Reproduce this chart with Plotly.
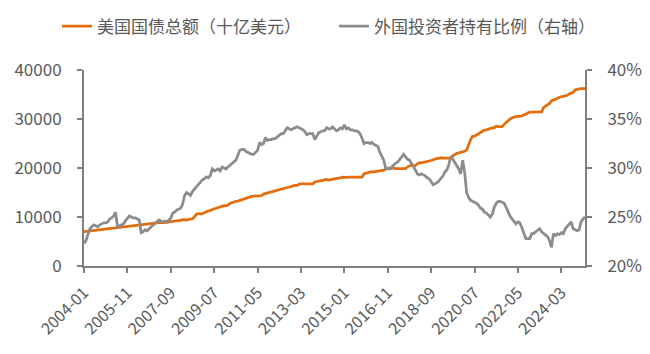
import plotly.graph_objects as go

# Monthly categories 2004-01 .. 2025-03
months = [f"{y}-{m:02d}" for y in range(2004, 2026) for m in range(1, 13)][:255]

tick_labels = ["2004-01", "2005-11", "2007-09", "2009-07", "2011-05", "2013-03",
               "2015-01", "2016-11", "2018-09", "2020-07", "2022-05", "2024-03"]

# 美国国债总额（十亿美元）
debt = [
    7010, 7060, 7130, 7150, 7180, 7270, 7290, 7340, 7380, 7430, 7520, 7600,
    7630, 7700, 7780, 7760, 7780, 7840, 7870, 7930, 7930, 8000, 8090, 8170,
    8200, 8270, 8370, 8350, 8360, 8420, 8440, 8510, 8510, 8560, 8610, 8680,
    8710, 8780, 8850, 8850, 8840, 8870, 8920, 9000, 9010, 9080, 9140, 9230,
    9240, 9300, 9440, 9400, 9390, 9490, 9590, 9650, 10020, 10570, 10670, 10700,
    10630, 10880, 11130, 11240, 11320, 11550, 11670, 11780, 11910, 11930, 12030, 12310,
    12280, 12440, 12770, 12950, 13050, 13200, 13240, 13400, 13560, 13670, 13860, 14030,
    14130, 14200, 14270, 14290, 14290, 14290, 14340, 14680, 14790, 14940, 15030, 15220,
    15350, 15480, 15580, 15690, 15770, 15860, 15890, 16020, 16070, 16260, 16370, 16430,
    16430, 16690, 16770, 16830, 16740, 16740, 16740, 16740, 16740, 17160, 17210, 17350,
    17290, 17460, 17600, 17690, 17520, 17630, 17690, 17750, 17820, 17940, 18000, 18140,
    18080, 18150, 18150, 18150, 18150, 18150, 18150, 18150, 18150, 18150, 18830, 18920,
    19010, 19130, 19260, 19190, 19260, 19380, 19430, 19510, 19570, 19800, 19950, 19980,
    19940, 20000, 19850, 19850, 19850, 19850, 19850, 19850, 20240, 20440, 20590, 20490,
    20490, 20850, 21090, 21070, 21150, 21200, 21260, 21360, 21520, 21700, 21850, 21970,
    21980, 22110, 22030, 22030, 22030, 22030, 22020, 22470, 22720, 23010, 23080, 23200,
    23200, 23410, 23690, 24970, 25740, 26480, 26520, 26730, 26950, 27140, 27400, 27750,
    27780, 27900, 28130, 28170, 28200, 28530, 28430, 28430, 28430, 28910, 29180, 29620,
    30010, 30290, 30400, 30480, 30490, 30570, 30610, 30870, 30930, 31240, 31420, 31420,
    31460, 31460, 31460, 31460, 31460, 32330, 32610, 32910, 33170, 33700, 33900, 34000,
    34190, 34470, 34590, 34620, 34670, 34830, 35110, 35270, 35460, 35950, 36090, 36220,
    36220, 36220, 36220,
]

# 外国投资者持有比例（右轴），%
share = [
    22.3, 22.6, 23.2, 23.8, 24.0, 24.2, 24.1, 24.0, 24.2, 24.3, 24.4, 24.4,
    24.5, 24.8, 24.9, 25.1, 25.5, 24.0, 24.1, 24.2, 24.3, 24.6, 24.9, 25.1,
    25.0, 24.9, 24.9, 24.8, 24.7, 23.4, 23.5, 23.7, 23.6, 23.8, 24.0, 24.2,
    24.3, 24.5, 24.7, 24.6, 24.5, 24.6, 24.5, 24.7, 24.9, 25.4, 25.5, 25.7,
    25.8, 25.9, 26.3, 27.2, 27.5, 27.3, 27.2, 27.6, 27.9, 28.1, 28.3, 28.6,
    28.8, 28.9, 29.1, 29.0, 29.2, 29.9, 29.7, 29.8, 29.9, 29.7, 30.1, 30.0,
    29.9, 30.1, 30.3, 30.4, 30.6, 30.8, 31.3, 31.8, 31.9, 31.9, 31.7, 31.6,
    31.5, 31.4, 31.4, 31.6, 31.8, 32.6, 32.4, 32.5, 33.1, 32.8, 32.9, 32.9,
    33.0, 33.0, 33.2, 33.4, 33.5, 33.5, 33.8, 34.1, 34.0, 33.9, 34.0, 34.1,
    34.2, 34.1, 34.0, 33.9, 33.7, 33.4, 33.5, 33.5, 33.5, 32.9, 33.3, 33.6,
    33.7, 33.8, 33.8, 34.1, 34.0, 34.0, 34.2, 34.0, 33.8, 33.9, 34.1, 34.0,
    34.4, 34.0, 34.1, 33.9, 33.9, 33.8, 33.8, 33.7, 33.5, 33.0, 32.5, 32.6,
    32.6, 32.5, 32.6, 32.4, 32.3, 32.2, 31.6, 31.2, 30.8, 29.9, 30.0, 29.9,
    30.1, 30.4, 30.5, 30.6, 30.8, 31.1, 31.4, 31.1, 30.9, 30.8, 30.5, 30.1,
    29.8, 29.4, 29.3, 29.4, 29.3, 29.2, 29.0, 28.9, 28.6, 28.3, 28.4, 28.5,
    28.7, 28.9, 29.2, 29.6, 29.8, 30.4, 31.2, 30.9, 30.6, 30.3, 29.9, 29.4,
    30.8, 29.5, 27.5, 27.0, 26.7, 26.6, 26.5, 26.4, 26.2, 25.9, 25.8, 25.5,
    25.4, 25.2, 25.0, 25.3, 26.0, 26.4, 26.6, 26.6, 26.5, 26.4, 26.0, 25.5,
    25.1, 24.8, 24.6, 24.3, 24.5, 24.4, 23.9, 23.3, 22.8, 22.8, 22.8, 23.3,
    23.3, 23.5, 23.7, 23.8, 23.5, 23.3, 23.2, 23.0, 22.6, 21.9, 23.3, 23.1,
    23.3, 23.2, 23.4, 23.3, 23.8, 24.0, 24.2, 24.5, 23.8, 23.7, 23.6, 23.7,
    24.5, 24.8, 25.0,
]

ORANGE = "#E46C0A"
GRAY = "#8C8C8C"
AXIS = "#7F7F7F"
TXT = "#595959"
FONT = "Noto Sans CJK SC, Noto Sans, sans-serif"

fig = go.Figure()
fig.add_trace(go.Scatter(x=months, y=debt, name="美国国债总额（十亿美元）",
                         mode="lines", line=dict(color=ORANGE, width=2.75),
                         yaxis="y", legend="legend"))
fig.add_trace(go.Scatter(x=months, y=share, name="外国投资者持有比例（右轴）",
                         mode="lines", line=dict(color=GRAY, width=2.75),
                         yaxis="y2", legend="legend2"))

leg_common = dict(orientation="h", xref="container", yref="container",
                  xanchor="left", yanchor="middle", y=0.925,
                  font=dict(size=17, color=TXT), bgcolor="rgba(0,0,0,0)",
                  itemwidth=30)

fig.update_layout(
    width=650, height=354,
    margin=dict(l=84, r=65, t=70, b=88, autoexpand=False),
    paper_bgcolor="white", plot_bgcolor="white",
    font=dict(family=FONT, size=16, color=TXT),
    showlegend=True,
    legend=dict(x=57 / 650, **leg_common),
    legend2=dict(x=334 / 650, **leg_common),
    xaxis=dict(type="category", range=[0, len(months) - 1],
               tickmode="array", tickvals=tick_labels, ticktext=tick_labels,
               tickangle=-45, showgrid=False, zeroline=False,
               showline=True, linecolor=AXIS, linewidth=2,
               ticks="outside", ticklen=5, tickwidth=2, tickcolor=AXIS,
               ticklabelstandoff=4,
               tickfont=dict(size=16, color=TXT)),
    yaxis=dict(range=[0, 40000], dtick=10000, tick0=0, showgrid=False, zeroline=False,
               showline=True, linecolor=AXIS, linewidth=2,
               ticks="outside", ticklen=5, tickwidth=2, tickcolor=AXIS,
               ticklabelstandoff=12, tickformat="d",
               tickfont=dict(size=17, color=TXT)),
    yaxis2=dict(range=[20, 40], dtick=5, tick0=20, overlaying="y", side="right",
                showgrid=False, zeroline=False,
                showline=True, linecolor=AXIS, linewidth=2,
                ticks="outside", ticklen=5, tickwidth=2, tickcolor=AXIS,
                ticksuffix="%", ticklabelstandoff=12,
                tickfont=dict(size=17, color=TXT)),
)

fig.write_html("out.html")
